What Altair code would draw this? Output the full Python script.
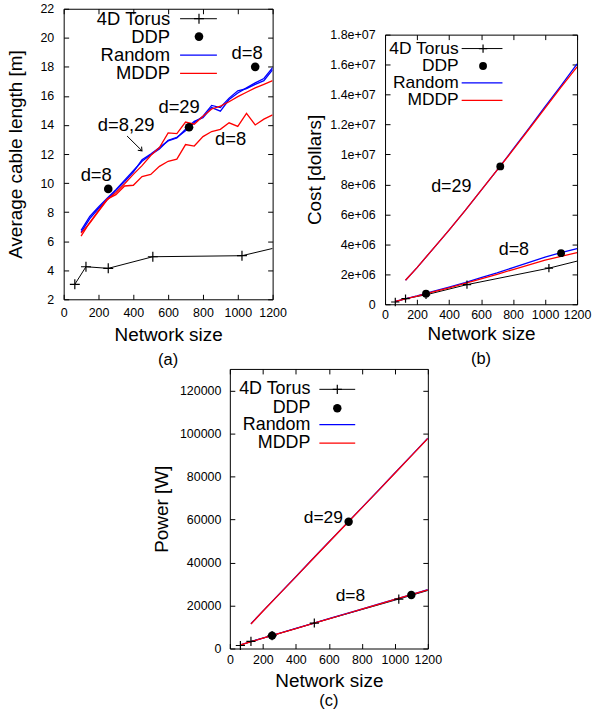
import altair as alt
import pandas as pd

FONT = "Liberation Sans"
BLUE = "#0000ff"
RED = "#ff0000"
BLACK = "#000000"
PLUS = "M-1,0L1,0M0,-1L0,1"
VHEAD = "M-0.8,-1L0,0L0.8,-1"

x_ticks = [0, 200, 400, 600, 800, 1000, 1200]
legend_labels = ["4D Torus", "DDP", "Random", "MDDP"]
x_title = "Network size"
panel_tags = ["(a)", "(b)", "(c)"]

# ---------------- (a) average cable length ----------------
sizes_a = [100, 150, 200, 250, 300, 350, 400, 450, 500, 550, 600, 650,
           700, 750, 800, 850, 900, 950, 1000, 1050, 1100, 1150, 1200]
random_d8_len = [6.75, 7.7, 8.35, 8.95, 9.55, 10.2, 10.85, 11.5, 11.95, 12.35, 12.95, 13.15,
                 13.6, 14.15, 14.6, 15.35, 15.2, 15.85, 16.35, 16.5, 16.8, 17.05, 17.8]
random_d29_len = [6.6, 7.55, 8.25, 8.85, 9.5, 10.1, 10.75, 11.6, 12.0, 12.45, 12.9, 13.1,
                  13.7, 14.25, 14.5, 15.2, 14.95, 15.75, 16.2, 16.55, 16.9, 17.2, 17.95]
mddp_d29_len = [6.55, 7.25, 8.05, 8.85, 9.35, 9.95, 10.6, 11.2, 11.9, 12.45, 13.45, 13.4,
                14.2, 14.05, 14.6, 15.1, 15.3, 15.6, 15.95, 16.25, 16.55, 16.8, 17.05]
mddp_d8_len = [6.35, 7.3, 8.1, 8.9, 9.2, 9.8, 9.85, 10.45, 10.6, 11.15, 11.5, 11.65,
               12.65, 12.55, 13.2, 13.55, 13.7, 14.15, 13.9, 14.8, 14.0, 14.4, 14.7]

# ---------------- (b) cost / (c) power ----------------
sizes_d29 = [128, 200, 300, 400, 500, 600, 700, 800, 900, 1000, 1100, 1200]
sizes_d8 = [64, 200, 300, 400, 500, 600, 700, 800, 900, 1000, 1100, 1200]
random_d29_cost = [1.6e6, 2.45e6, 3.7e6, 4.95e6, 6.25e6, 7.6e6, 8.95e6, 10.35e6, 11.75e6, 13.2e6, 14.6e6, 16.05e6]
mddp_d29_cost = [1.6e6, 2.45e6, 3.7e6, 4.95e6, 6.25e6, 7.6e6, 8.95e6, 10.3e6, 11.7e6, 13.1e6, 14.5e6, 15.85e6]
random_d8_cost = [2.0e5, 5.6e5, 8.6e5, 1.15e6, 1.45e6, 1.78e6, 2.1e6, 2.45e6, 2.8e6, 3.15e6, 3.45e6, 3.72e6]
mddp_d8_cost = [1.9e5, 5.4e5, 8.3e5, 1.1e6, 1.4e6, 1.7e6, 2.0e6, 2.32e6, 2.63e6, 2.95e6, 3.2e6, 3.45e6]
random_d29_power = [11500, 17400, 25400, 33400, 41500, 49500, 57500, 65500, 73500, 81600, 89700, 97800]
mddp_d29_power = [11400, 17300, 25300, 33300, 41400, 49400, 57400, 65400, 73400, 81500, 89600, 97700]
random_d8_power = [1750, 4850, 7100, 9350, 11600, 13850, 16100, 18350, 20600, 22850, 25100, 27350]
mddp_d8_power = [1700, 4800, 7050, 9300, 11550, 13800, 16050, 18300, 20550, 22800, 25050, 27300]

# 4D torus and DDP
torus_sizes = [64, 128, 256, 512, 1024]
frame_edge = 1200
torus_len = [3.03, 4.24, 4.13, 4.93, 5.0]
torus_len_edge = 5.5
torus_cost = [1.5e5, 3.8e5, 6.3e5, 1.31e6, 2.41e6]
torus_cost_edge = 2.88e6
torus_power = [1400, 3300, 6000, 11850, 23000]
torus_power_edge = 27000
ddp_sizes = [256, 720, 1100]
ddp_len = [9.6, 13.84, 18.0]
ddp_cost = [7.1e5, 9.2e6, 3.41e6]
ddp_power = [6000, 58900, 24900]

# annotations
ann_a_text = ["d=8", "d=8,29", "d=29", "d=8", "d=8"]
ann_a_x = [187, 359, 663, 1054, 959]
ann_a_y = [10.53, 14.03, 15.24, 18.98, 13.01]
arrow_a_x = [364, 450]
arrow_a_y = [13.24, 12.22]
ann_b_text = ["d=29", "d=8"]
ann_b_x = [414, 805]
ann_b_y = [7.8e6, 3.64e6]
ann_c_text = ["d=29", "d=8"]
ann_c_x = [567, 731]
ann_c_y = [60500, 24230]


def long_df(pairs):
    frames = []
    for name, sizes, vals in pairs:
        frames.append(pd.DataFrame({"size": sizes, "value": vals, "series": name}))
    return pd.concat(frames, ignore_index=True)


def pts(sizes, vals):
    return pd.DataFrame({"size": sizes, "value": vals})


ONE = pd.DataFrame({"k": [0]})


def spacer(w, h):
    return alt.Chart(ONE).mark_point(opacity=0).encode(
        x=alt.value(0), y=alt.value(0)
    ).properties(width=w, height=h, view=alt.ViewBackground(stroke="transparent"))


def build_panel(blue_df, red_df, torus_line_df, torus_pts_df, ddp_df, ann_df,
                ydom, yvals, w, h, ytitle, y_label_pad, y_title_pad, y_fmt, y_expr,
                x_label_pad, x_title_pad, leg, leg_font, ann_font, plus_size, dot_size,
                tag, tag_offset, extra=()):
    xs = alt.Scale(domain=[0, 1200], nice=False, zero=False)
    ys = alt.Scale(domain=ydom, nice=False, zero=False)

    common = dict(domain=False, ticks=True, tickSize=5, tickColor=BLACK, tickWidth=1,
                  offset=-5, grid=False)
    x_axis = alt.Axis(orient="bottom", values=x_ticks, title=x_title, format="d",
                      labelFont=FONT, labelFontSize=12.5, labelColor=BLACK,
                      labelPadding=x_label_pad, labelFlush=False, labelOverlap=False,
                      titleFont=FONT, titleFontSize=19, titleFontWeight="normal",
                      titleColor=BLACK, titlePadding=x_title_pad, **common)
    ykw = dict(orient="left", values=yvals, title=ytitle,
               labelFont=FONT, labelFontSize=12.5, labelColor=BLACK,
               labelPadding=y_label_pad, labelFlush=False, labelOverlap=False,
               titleFont=FONT, titleFontSize=19, titleFontWeight="normal",
               titleColor=BLACK, titlePadding=y_title_pad, **common)
    if y_fmt:
        ykw["format"] = y_fmt
    if y_expr:
        ykw["labelExpr"] = y_expr
    y_axis = alt.Axis(**ykw)
    mx = alt.Axis(orient="top", values=x_ticks, labels=False, title=None, **common)
    my = alt.Axis(orient="right", values=yvals, labels=False, title=None, **common)

    def X():
        return alt.X("size:Q", scale=xs, axis=None)

    def Y():
        return alt.Y("value:Q", scale=ys, axis=None)

    layers = []
    layers.append(alt.Chart(torus_line_df).mark_line(color=BLACK, strokeWidth=1, clip=True).encode(
        x=alt.X("size:Q", scale=xs, axis=x_axis), y=alt.Y("value:Q", scale=ys, axis=y_axis)))
    layers.append(alt.Chart(torus_line_df).mark_point(opacity=0).encode(
        x=alt.X("size:Q", scale=xs, axis=mx), y=alt.Y("value:Q", scale=ys, axis=my)))
    layers.append(alt.Chart(blue_df).mark_line(color=BLUE, strokeWidth=1.3, clip=True).encode(
        x=X(), y=Y(), detail="series:N"))
    layers.append(alt.Chart(red_df).mark_line(color=RED, strokeWidth=1.3, clip=True).encode(
        x=X(), y=Y(), detail="series:N"))
    layers.append(alt.Chart(torus_pts_df).mark_point(shape=PLUS, filled=False, color=BLACK,
                                                      strokeWidth=1.2, size=plus_size, opacity=1).encode(x=X(), y=Y()))
    layers.append(alt.Chart(ddp_df).mark_circle(color=BLACK, size=dot_size, opacity=1).encode(x=X(), y=Y()))
    layers.append(alt.Chart(ann_df).mark_text(font=FONT, fontSize=ann_font, color=BLACK).encode(
        x=X(), y=Y(), text="label:N"))

    # in-plot key (gnuplot style: text then sample)
    tx, rows, lx1, lx2, sx = leg
    for lab, ry in zip(legend_labels, rows):
        layers.append(alt.Chart(pd.DataFrame({"t": [lab]})).mark_text(
            font=FONT, fontSize=leg_font, color=BLACK, align="right", baseline="middle").encode(
            x=alt.value(tx), y=alt.value(ry), text="t:N"))
    layers.append(alt.Chart(ONE).mark_rule(color=BLACK, strokeWidth=1).encode(
        x=alt.value(lx1), x2=alt.value(lx2), y=alt.value(rows[0])))
    layers.append(alt.Chart(ONE).mark_point(shape=PLUS, filled=False, color=BLACK, strokeWidth=1.2,
                                            size=plus_size, opacity=1).encode(x=alt.value(sx), y=alt.value(rows[0])))
    layers.append(alt.Chart(ONE).mark_circle(color=BLACK, size=dot_size, opacity=1).encode(
        x=alt.value(sx), y=alt.value(rows[1])))
    layers.append(alt.Chart(ONE).mark_rule(color=BLUE, strokeWidth=1.3).encode(
        x=alt.value(lx1), x2=alt.value(lx2), y=alt.value(rows[2])))
    layers.append(alt.Chart(ONE).mark_rule(color=RED, strokeWidth=1.3).encode(
        x=alt.value(lx1), x2=alt.value(lx2), y=alt.value(rows[3])))

    for e in extra:
        layers.append(e(X, Y))

    return alt.layer(*layers).properties(
        width=w, height=h,
        title=alt.TitleParams(tag, orient="bottom", font=FONT, fontSize=16.5, fontWeight="normal",
                              color=BLACK, offset=tag_offset, frame="group", anchor="middle"))


# ---- panel (a)
blue_a = long_df([("Random d=8", sizes_a, random_d8_len), ("Random d=29", sizes_a, random_d29_len)])
red_a = long_df([("MDDP d=8", sizes_a, mddp_d8_len), ("MDDP d=29", sizes_a, mddp_d29_len)])
torus_line_a = pts(torus_sizes + [frame_edge], torus_len + [torus_len_edge])
ann_a = pd.DataFrame({"size": ann_a_x, "value": ann_a_y, "label": ann_a_text})
arrow_df = pts(arrow_a_x, arrow_a_y)
arrow_tip = pts(arrow_a_x[1:], arrow_a_y[1:])


def arrow_line(X, Y):
    return alt.Chart(arrow_df).mark_line(color=BLACK, strokeWidth=1).encode(x=X(), y=Y())


def arrow_head(X, Y):
    return alt.Chart(arrow_tip).mark_point(shape=VHEAD, filled=False, color=BLACK, strokeWidth=1,
                                           size=45, angle=315, opacity=1).encode(x=X(), y=Y())


panel_a = build_panel(
    blue_a, red_a, torus_line_a, pts(torus_sizes, torus_len), pts(ddp_sizes, ddp_len), ann_a,
    [2, 22], list(range(2, 23, 2)), 210, 292, "Average cable length [m]", 10, 14, None, None,
    7, 6.5, (107, [10, 28, 46.5, 65], 117, 154, 136), 18.5, 18.5, 100, 75,
    panel_tags[0], 8, extra=(arrow_line, arrow_head))

# ---- panel (b)
blue_b = long_df([("Random d=29", sizes_d29, random_d29_cost), ("Random d=8", sizes_d8, random_d8_cost)])
red_b = long_df([("MDDP d=29", sizes_d29, mddp_d29_cost), ("MDDP d=8", sizes_d8, mddp_d8_cost)])
torus_line_b = pts(torus_sizes + [frame_edge], torus_cost + [torus_cost_edge])
ann_b = pd.DataFrame({"size": ann_b_x, "value": ann_b_y, "label": ann_b_text})

panel_b = build_panel(
    blue_b, red_b, torus_line_b, pts(torus_sizes, torus_cost), pts(ddp_sizes, ddp_cost), ann_b,
    [0, 1.8e7], [i * 2e6 for i in range(10)], 193, 271, "Cost [dollars]", 10, 5, None,
    "datum.value == 0 ? '0' : replace(format(datum.value, '.2~e'), 'e+', 'e+0')",
    4.5, 3.2, (74, [14, 31.5, 48.5, 66], 77, 118, 98.5), 17.5, 18, 70, 62,
    panel_tags[1], 8)

# ---- panel (c)
blue_c = long_df([("Random d=29", sizes_d29, random_d29_power), ("Random d=8", sizes_d8, random_d8_power)])
red_c = long_df([("MDDP d=29", sizes_d29, mddp_d29_power), ("MDDP d=8", sizes_d8, mddp_d8_power)])
torus_line_c = pts(torus_sizes + [frame_edge], torus_power + [torus_power_edge])
ann_c = pd.DataFrame({"size": ann_c_x, "value": ann_c_y, "label": ann_c_text})

panel_c = build_panel(
    blue_c, red_c, torus_line_c, pts(torus_sizes, torus_power), pts(ddp_sizes, ddp_power), ann_c,
    [0, 130000], [i * 20000 for i in range(7)], 199, 281, "Power [W]", 9, 8, "d", None,
    5.5, 5, (81, [20.5, 39.5, 56, 74.5], 90, 126, 108), 18, 17.5, 85, 72,
    panel_tags[2], 2.5)

right_col = alt.vconcat(spacer(193, 1), panel_b, spacing=15)
top = alt.hconcat(panel_a, right_col, spacing=17)
bottom = alt.hconcat(spacer(1, 1), panel_c, spacing=84)
chart = alt.vconcat(top, bottom, spacing=-9).properties(
    padding={"left": 6, "top": 0, "right": 0, "bottom": 0}
).configure_view(stroke=BLACK, strokeWidth=1)

chart.save("out.html", embed_options={"renderer": "svg", "actions": False})
